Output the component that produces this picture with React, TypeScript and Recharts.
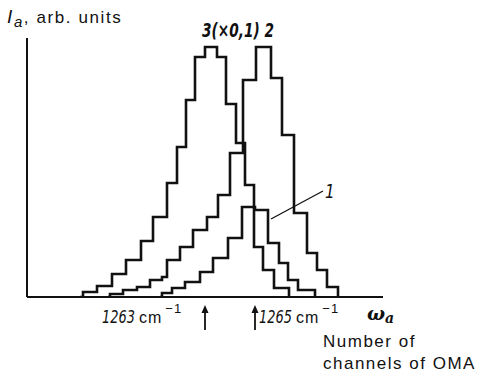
import React from 'react';
import { LineChart, Line, XAxis, YAxis, ReferenceLine } from 'recharts';

// Channel positions (start of each step) and intensities (arb. units) per curve
const curve3X = [53, 56, 70, 85, 99, 114, 126, 140, 150, 159, 168, 178, 190, 199, 209, 218, 227, 236, 247, 262];
const curve3Y = [0, 5, 11, 23, 37, 56, 80, 114, 150, 197, 240, 250, 240, 193, 154, 112, 50, 27, 9, 0];

const curve2X = [81, 83, 96, 110, 123, 135, 140, 153, 166, 180, 191, 203, 216, 229, 244, 255, 267, 280, 290, 300, 311];
const curve2Y = [0, 3, 7, 10, 17, 20, 37, 50, 67, 80, 102, 144, 217, 250, 219, 162, 84, 44, 27, 10, 0];

const curve1X = [133, 135, 145, 158, 173, 186, 201, 215, 228, 241, 252, 261, 271, 288];
const curve1Y = [0, 4, 9, 15, 25, 39, 59, 90, 87, 54, 34, 17, 7, 0];

const tickValues = [178, 228];
const tickLabels = ['1263', '1265'];

const zip = (xs: number[], ys: number[]) => xs.map((x, i) => ({ x, y: ys[i] }));
const data3 = zip(curve3X, curve3Y);
const data2 = zip(curve2X, curve2Y);
const data1 = zip(curve1X, curve1Y);

const SANS = '"Liberation Sans", Arial, sans-serif';
const DIGITS = '"DejaVu Sans", sans-serif';

const Tick = (props: any) => {
  const { x, payload } = props;
  const idx = tickValues.indexOf(payload.value);
  const label = tickLabels[idx] ?? '';
  const axisY = 297;
  const top = axisY + 8;
  const bottom = axisY + 33;
  const base = axisY + 26;
  const arrow = (
    <g>
      <line x1={x} y1={top + 5} x2={x} y2={bottom} stroke="#111" strokeWidth={1.8} />
      <polygon points={`${x - 3.5},${top + 8} ${x + 3.5},${top + 8} ${x},${top}`} fill="#111" />
    </g>
  );
  const num = (tx: number) => (
    <text
      x={0}
      y={0}
      transform={`translate(${tx},${base}) scale(0.72,1)`}
      fill="#111"
      fontFamily={DIGITS}
      fontStyle="italic"
      fontSize={18}
    >
      {label}
    </text>
  );
  const unit = (tx: number) => (
    <text x={tx} y={base} fill="#111" fontFamily={SANS} fontSize={16} letterSpacing={1}>
      cm<tspan dx={3} dy={-10} fontSize={13}>−1</tspan>
    </text>
  );
  if (idx === 0) {
    return (
      <g>
        {arrow}
        {num(x - 103)}
        {unit(x - 66)}
      </g>
    );
  }
  return (
    <g>
      {arrow}
      {num(x + 4)}
      {unit(x + 41)}
    </g>
  );
};

export default function App() {
  return (
    <div style={{ position: 'absolute', left: 0, top: 0, width: 484, height: 374, background: '#fff' }}>
      <LineChart width={484} height={374} margin={{ top: 38, right: 101, bottom: 76, left: 26 }}>
        <XAxis
          dataKey="x"
          type="number"
          domain={[0, 356]}
          allowDataOverflow
          ticks={tickValues}
          tick={<Tick />}
          tickLine={false}
          tickSize={0}
          tickMargin={0}
          height={1}
          axisLine={{ stroke: '#111', strokeWidth: 2 }}
          interval={0}
        />
        <YAxis
          type="number"
          domain={[0, 259]}
          allowDataOverflow
          width={1}
          tick={false}
          tickLine={false}
          axisLine={{ stroke: '#111', strokeWidth: 2 }}
        />
        <Line data={data3} dataKey="y" type="stepAfter" stroke="#111" strokeWidth={2.6} dot={false} isAnimationActive={false} />
        <Line data={data2} dataKey="y" type="stepAfter" stroke="#111" strokeWidth={2.6} dot={false} isAnimationActive={false} />
        <Line data={data1} dataKey="y" type="stepAfter" stroke="#111" strokeWidth={2.6} dot={false} isAnimationActive={false} />
        <ReferenceLine segment={[{ x: 244, y: 78 }, { x: 296, y: 106 }]} stroke="#111" strokeWidth={1.3} ifOverflow="visible" />
      </LineChart>
      <svg width={484} height={374} style={{ position: 'absolute', left: 0, top: 0, pointerEvents: 'none' }}>
        <text x={7} y={23} fill="#111" fontFamily={SANS} fontSize={17} letterSpacing={1.6}>
          <tspan fontStyle="italic" fontSize={19}>I</tspan>
          <tspan fontStyle="italic" fontSize={15} dy={4}>a</tspan>
          <tspan dy={-4}>, arb. units</tspan>
        </text>
        <text
          x={0}
          y={0}
          transform="translate(202,37) scale(0.72,1)"
          fill="#111"
          fontFamily={DIGITS}
          fontStyle="italic"
          fontWeight="bold"
          fontSize={19}
        >
          3(×0,1) 2
        </text>
        <text x={0} y={0} transform="translate(325,198) scale(0.8,1)" fill="#111" fontFamily={DIGITS} fontStyle="italic" fontSize={19}>1</text>
        <text x={367} y={320} fill="#111" fontFamily='"DejaVu Serif", serif' fontStyle="italic" fontWeight="bold" fontSize={19}>
          ω<tspan fontSize={14} dy={3}>a</tspan>
        </text>
        <text x={323} y={347} fill="#111" fontFamily={SANS} fontSize={17} letterSpacing={1.5}>Number of</text>
        <text x={323} y={369} fill="#111" fontFamily={SANS} fontSize={17} letterSpacing={1.5}>channels of OMA</text>
      </svg>
    </div>
  );
}
